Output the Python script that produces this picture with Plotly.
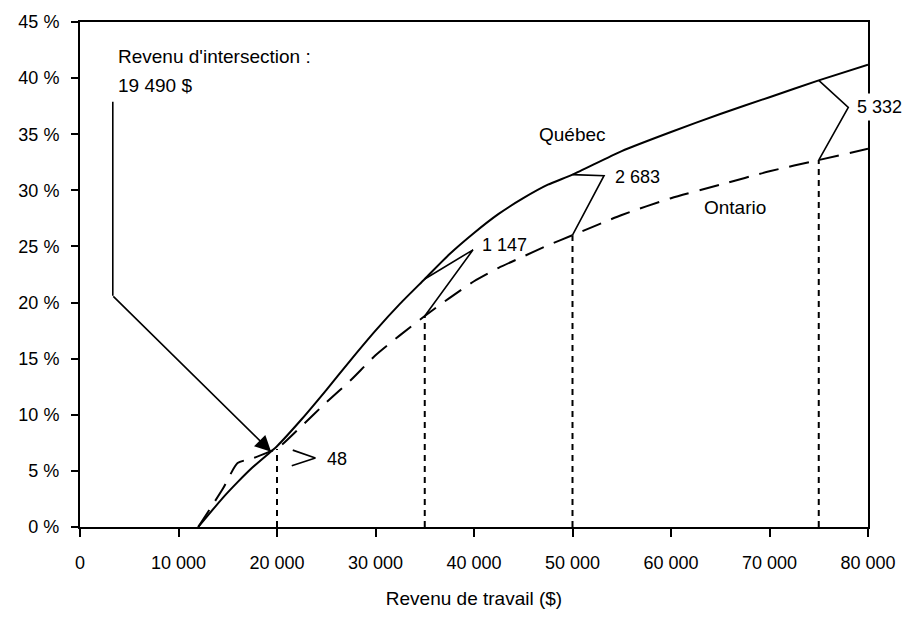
import plotly.graph_objects as go

# ---------------- data ----------------
income = [12000, 14500, 16000, 17500, 19490, 20000, 22500, 25000, 27500, 30000, 32500,
          35000, 37500, 40000, 42500, 45000, 47500, 50000, 55000, 60000, 65000,
          70000, 75000, 80000]
quebec = [0.0, 2.6, 4.0, 5.3, 6.8, 7.2, 9.6, 12.2, 14.9, 17.5, 19.9,
          22.1, 24.3, 26.2, 27.9, 29.3, 30.5, 31.4, 33.5, 35.2, 36.8,
          38.3, 39.8, 41.2]
ontario = [0.0, 3.4, 5.7, 6.1, 6.8, 6.96, 9.0, 11.1, 13.1, 15.3, 17.1,
           18.8, 20.4, 21.9, 23.1, 24.1, 25.1, 26.0, 27.8, 29.3, 30.5,
           31.7, 32.7, 33.7]

compare_income = [20000, 35000, 50000, 75000]
diff_labels = ["48", "1 147", "2 683", "5 332"]
intersection_label = ["Revenu d'intersection :", "19 490 $"]
intersection_income = 19490

x_tickvals = [0, 10000, 20000, 30000, 40000, 50000, 60000, 70000, 80000]
x_ticktext = ["0", "10 000", "20 000", "30 000", "40 000", "50 000", "60 000", "70 000", "80 000"]
y_tickvals = [0, 5, 10, 15, 20, 25, 30, 35, 40, 45]
y_ticktext = ["0 %", "5 %", "10 %", "15 %", "20 %", "25 %", "30 %", "35 %", "40 %", "45 %"]

FONT = "Liberation Sans, Arial, sans-serif"
FS = 18
FS_ANN = 19


def at(xs, ys, x):
    return ys[xs.index(x)]


fig = go.Figure()

# main curves
fig.add_trace(go.Scatter(x=income, y=quebec, mode="lines", name="Québec",
                         line=dict(color="black", width=2, shape="spline", smoothing=0.6)))
fig.add_trace(go.Scatter(x=income, y=ontario, mode="lines", name="Ontario",
                         line=dict(color="black", width=2, dash="20px,11px",
                                   shape="spline", smoothing=0.6)))

# vertical dashed drop lines
vx, vy = [], []
for c in compare_income:
    vx += [c, c, None]
    vy += [0, at(income, ontario, c), None]
fig.add_trace(go.Scatter(x=vx, y=vy, mode="lines",
                         line=dict(color="black", width=2, dash="6px,5px")))

# brackets between curves (vertex offsets are layout choices)
vertex = {35000: (4900, 24.7), 50000: (3200, 31.3), 75000: (3000, 37.4)}
bx, by = [], []
for c in compare_income[1:]:
    dx, vyy = vertex[c]
    bx += [c, c + dx, c, None]
    by += [at(income, quebec, c), vyy, at(income, ontario, c), None]
# small ">" for the 48 $ gap
c0 = compare_income[0]
bx += [c0 + 1600, c0 + 3900, c0 + 1500]
by += [6.85, 6.15, 5.45]
fig.add_trace(go.Scatter(x=bx, y=by, mode="lines",
                         line=dict(color="black", width=1.6)))

# vertical leader for the intersection label
lead_x = 3330
fig.add_trace(go.Scatter(x=[lead_x, lead_x], y=[37.9, 20.6], mode="lines",
                         line=dict(color="black", width=1.6)))

ann = []
ann.append(dict(x=intersection_income - 90, y=at(income, quebec, intersection_income) - 0.1,
                ax=lead_x, ay=20.6, axref="x", ayref="y", xref="x", yref="y",
                text="", showarrow=True, arrowhead=2, arrowsize=2,
                arrowwidth=1.6, arrowcolor="black"))
ann.append(dict(x=3740, y=41.9, text=intersection_label[0], showarrow=False,
                xanchor="left", yanchor="middle", fs=FS_ANN))
ann.append(dict(x=3740, y=39.3, text=intersection_label[1], showarrow=False,
                xanchor="left", yanchor="middle", fs=FS_ANN))
ann.append(dict(x=50000, y=35.0, text="Québec", showarrow=False,
                xanchor="center", yanchor="middle", fs=FS_ANN))
ann.append(dict(x=66500, y=28.5, text="Ontario", showarrow=False,
                xanchor="center", yanchor="middle", fs=FS_ANN))
label_pos = [(24950, 6.1), (40700, 25.1), (54240, 31.2), (78500, 37.4)]
for (lx, ly), t in zip(label_pos, diff_labels):
    ann.append(dict(x=lx, y=ly, text=t, showarrow=False,
                    xanchor="left", yanchor="middle", fs=FS))
for a in ann:
    a.setdefault("xref", "x")
    a.setdefault("yref", "y")
    size = a.pop("fs", FS)
    a["font"] = dict(family=FONT, size=size, color="black")
    a["borderpad"] = 0
# the last label sits over the right frame, which is broken behind it
ann[-1]["bgcolor"] = "white"
ann[-1]["borderpad"] = 3

fig.update_layout(
    width=908, height=618,
    margin=dict(l=80, r=36, t=21, b=84),
    paper_bgcolor="white", plot_bgcolor="white",
    showlegend=False,
    font=dict(family=FONT, size=FS, color="black"),
    annotations=ann,
    xaxis=dict(range=[0, 80000], tickvals=x_tickvals, ticktext=x_ticktext,
               showgrid=False, zeroline=False, showline=True, linecolor="black",
               linewidth=2, mirror=True, ticks="outside", ticklen=8, tickwidth=1.5,
               tickcolor="black", ticklabelstandoff=10,
               title=dict(text="Revenu de travail ($)", standoff=20,
                          font=dict(family=FONT, size=FS_ANN))),
    yaxis=dict(range=[0, 45], tickvals=y_tickvals, ticktext=y_ticktext,
               showgrid=False, zeroline=False, showline=True, linecolor="black",
               linewidth=2, mirror=True, ticks="outside", ticklen=7, tickwidth=1.5,
               tickcolor="black", ticklabelstandoff=8),
)

fig.write_html("out.html", config={"displayModeBar": False},
               post_script="document.body.style.margin='0';document.body.style.padding='0';")
